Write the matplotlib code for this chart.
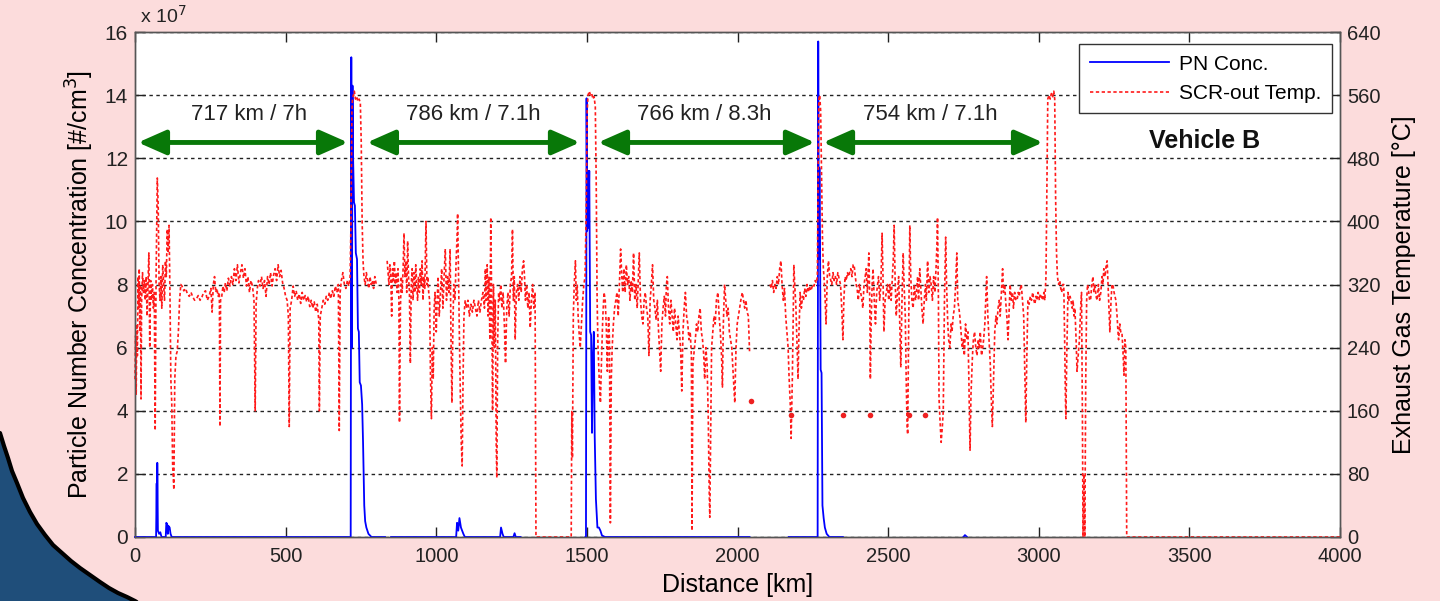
import numpy as np
import matplotlib.pyplot as plt
from matplotlib.lines import Line2D

plt.rcParams['font.family'] = ['Liberation Sans', 'DejaVu Sans']

# PN concentration in units of 1e7 #/cm3, (distance km, value); None = logger gap
pn_conc = [
    (0, 0), (70, 0), (72, 1.7), (73, 0.3), (74, 2.35), (76, 0.2), (80, 0.1), (84, 0.15), (88, 0),
    (102, 0), (104, 0.45), (107, 0.4), (109, 0.1), (111, 0.35), (115, 0.3), (118, 0.1), (122, 0),
    (716, 0), (718, 15.2), (720, 6.0), (722, 14.3), (724, 12.0), (727, 10.6), (730, 10.5), (733, 9.0),
    (737, 8.8), (740, 6.6), (743, 6.5), (746, 4.9), (750, 4.8), (754, 4.2), (757, 3.0), (761, 1.0),
    (764, 0.5), (768, 0.3), (775, 0.1), (785, 0), (830, 0), None,
    (850, 0), (1066, 0), (1069, 0.45), (1073, 0.2), (1077, 0.6), (1082, 0.3), (1090, 0.1), (1095, 0),
    (1212, 0), (1215, 0.3), (1220, 0.1), (1224, 0), (1256, 0), (1260, 0.12), (1264, 0), (1280, 0), None,
    (1495, 0), (1497, 0), (1499, 13.9), (1501, 9.7), (1503, 11.6), (1505, 9.8), (1508, 11.6),
    (1511, 6.5), (1514, 6.4), (1517, 3.3), (1520, 5.7), (1523, 6.5), (1526, 3.2), (1530, 1.2),
    (1535, 0.3), (1540, 0.3), (1545, 0.2), (1550, 0.05), (1560, 0), (2040, 0), None,
    (2170, 0), (2266, 0), (2268, 15.7), (2270, 8.8), (2272, 11.7), (2274, 9.5), (2276, 5.3),
    (2279, 5.2), (2282, 1.0), (2286, 0.6), (2290, 0.3), (2296, 0.1), (2305, 0), (2350, 0), None,
    (2750, 0), (2755, 0.06), (2762, 0),
]

# SCR-out exhaust temperature in degC, one list per trip leg
scr_temp_leg1 = [
    (0, 200), (2, 255), (4, 180), (6, 270), (8, 230), (10, 330), (12, 290), (14, 340), (16, 260),
    (18, 320), (20, 175), (22, 300), (25, 335), (28, 310), (31, 325), (34, 300), (37, 330), (40, 280),
    (43, 320), (46, 360), (49, 240), (52, 325), (55, 300), (58, 320), (61, 290), (64, 310), (67, 135),
    (70, 330), (74, 455), (77, 420), (80, 320), (83, 300), (86, 330), (89, 290), (92, 345), (95, 320),
    (98, 300), (101, 350), (104, 330), (107, 390), (110, 360), (113, 395), (116, 310), (119, 200),
    (122, 170), (125, 90), (129, 60), (132, 200), (136, 230), (140, 235), (144, 260), (148, 300),
    (152, 320), (156, 318), (162, 312), (168, 315), (174, 308), (180, 305), (186, 310), (192, 304),
    (198, 300), (204, 302), (210, 306), (216, 300), (222, 304), (228, 310), (234, 312), (240, 300),
    (246, 305), (252, 315), (256, 285), (260, 320), (264, 330), (268, 310), (272, 315), (276, 305),
    (280, 310), (282, 140), (284, 300), (288, 305), (292, 318), (296, 310), (300, 322), (305, 312),
    (310, 328), (315, 318), (320, 330), (325, 320), (330, 340), (335, 325), (340, 345), (345, 322),
    (350, 335), (355, 345), (360, 328), (365, 340), (370, 318), (375, 330), (380, 310), (385, 325),
    (390, 318), (395, 300), (399, 160), (402, 295), (406, 315), (410, 325), (415, 318), (420, 330),
    (425, 315), (430, 325), (435, 305), (440, 330), (445, 320), (450, 335), (455, 318), (460, 332),
    (465, 340), (470, 325), (475, 345), (480, 330), (485, 338), (490, 322), (495, 315), (500, 305),
    (505, 300), (509, 280), (512, 140), (515, 290), (520, 300), (525, 318), (530, 305), (535, 312),
    (540, 300), (545, 308), (550, 296), (555, 310), (560, 300), (565, 306), (570, 298), (575, 305),
    (580, 292), (585, 300), (590, 290), (595, 298), (600, 285), (605, 295), (610, 275), (612, 160),
    (615, 280), (620, 290), (625, 300), (630, 295), (635, 305), (640, 300), (645, 310), (650, 302),
    (655, 312), (660, 305), (665, 318), (670, 310), (675, 320), (678, 135), (681, 310), (685, 325),
    (690, 335), (695, 320), (700, 315), (705, 325), (710, 318), (714, 330), (717, 400), (720, 540),
    (722, 555), (725, 560), (728, 565), (732, 555), (736, 558), (740, 552), (744, 555), (748, 550),
    (751, 500), (754, 400), (757, 350), (760, 330), (764, 320), (768, 335), (772, 325), (776, 315),
    (780, 330), (784, 320), (788, 325), (792, 315), (796, 330), (800, 322), (805, 318),
]
scr_temp_leg2 = [
    (837, 350), (840, 335), (843, 320), (846, 345), (849, 330), (852, 280), (855, 340), (858, 325),
    (861, 350), (864, 320), (867, 335), (870, 310), (873, 340), (876, 300), (878, 145), (881, 290),
    (884, 330), (887, 310), (890, 340), (893, 385), (896, 330), (899, 350), (902, 310), (905, 375),
    (908, 330), (911, 310), (914, 220), (917, 320), (920, 340), (923, 300), (926, 335), (929, 310),
    (932, 345), (935, 320), (938, 300), (941, 330), (944, 310), (947, 340), (950, 320), (953, 350),
    (956, 300), (959, 330), (962, 315), (966, 400), (969, 320), (972, 330), (975, 310), (978, 300),
    (981, 200), (984, 150), (987, 240), (990, 200), (993, 290), (996, 310), (1000, 260), (1003, 300),
    (1006, 330), (1010, 280), (1014, 310), (1018, 340), (1022, 290), (1026, 330), (1030, 365),
    (1034, 300), (1038, 330), (1042, 310), (1046, 365), (1049, 250), (1052, 170), (1055, 260),
    (1058, 320), (1062, 300), (1066, 350), (1069, 380), (1071, 410), (1074, 330), (1077, 250),
    (1080, 180), (1083, 120), (1086, 90), (1089, 200), (1092, 280), (1096, 300), (1100, 290),
    (1105, 300), (1110, 280), (1115, 295), (1120, 285), (1125, 300), (1130, 290), (1135, 280),
    (1140, 300), (1145, 285), (1150, 300), (1155, 310), (1160, 290), (1163, 340), (1166, 300),
    (1169, 345), (1172, 280), (1175, 330), (1178, 250), (1181, 405), (1184, 300), (1187, 160),
    (1190, 320), (1193, 240), (1196, 300), (1199, 120), (1201, 75), (1204, 250), (1207, 310),
    (1210, 300), (1214, 320), (1218, 290), (1222, 310), (1226, 270), (1230, 220), (1234, 290),
    (1238, 310), (1242, 280), (1246, 320), (1250, 330), (1253, 390), (1256, 300), (1259, 330),
    (1262, 250), (1266, 310), (1270, 320), (1274, 300), (1278, 330), (1282, 310), (1286, 340),
    (1290, 350), (1293, 330), (1296, 300), (1300, 320), (1304, 290), (1308, 310), (1312, 265),
    (1316, 300), (1320, 320), (1324, 290), (1328, 310), (1331, 0), (1448, 0), (1450, 160),
    (1452, 100), (1455, 280), (1458, 320), (1462, 350), (1465, 300), (1468, 320), (1471, 280),
    (1474, 260), (1478, 240), (1482, 270), (1486, 300), (1490, 320), (1494, 330), (1498, 420),
    (1501, 540), (1504, 560), (1508, 565), (1512, 560), (1516, 562), (1520, 555), (1524, 558),
    (1528, 545), (1531, 450), (1534, 300), (1537, 240), (1541, 200), (1545, 170), (1549, 230),
    (1553, 280), (1557, 310), (1561, 300), (1565, 260), (1568, 210), (1572, 280), (1575, 250),
    (1578, 18), (1581, 200), (1584, 240), (1588, 270), (1592, 290), (1596, 300), (1600, 310),
    (1604, 280), (1608, 320), (1612, 365), (1616, 330), (1619, 310), (1623, 340), (1627, 310),
    (1631, 345), (1635, 320), (1639, 330), (1643, 300), (1647, 325), (1651, 310), (1655, 360),
    (1659, 300), (1663, 320), (1667, 290), (1671, 330), (1674, 360), (1678, 300), (1682, 280),
    (1686, 270), (1690, 300), (1694, 310), (1698, 290), (1702, 280), (1706, 230), (1710, 300),
    (1714, 320), (1718, 345), (1722, 300), (1726, 290), (1730, 275), (1734, 300), (1738, 260),
    (1742, 230), (1745, 210), (1749, 270), (1753, 290), (1757, 305), (1761, 280), (1764, 320),
    (1767, 330), (1771, 290), (1775, 270), (1779, 300), (1783, 280), (1787, 260), (1791, 290),
    (1795, 270), (1799, 250), (1803, 280), (1807, 260), (1811, 240), (1815, 185), (1819, 260),
    (1823, 290), (1827, 310), (1831, 280), (1835, 270), (1839, 250), (1843, 260), (1847, 230),
    (1849, 8), (1852, 220), (1856, 235), (1860, 250), (1864, 270), (1868, 260), (1872, 280),
    (1876, 290), (1880, 260), (1884, 250), (1888, 230), (1891, 200), (1895, 240), (1899, 220),
    (1903, 150), (1906, 60), (1908, 25), (1911, 130), (1914, 240), (1918, 260), (1922, 280),
    (1926, 270), (1930, 300), (1935, 310), (1939, 280), (1943, 260), (1947, 230), (1950, 190),
    (1953, 270), (1957, 320), (1961, 300), (1965, 280), (1969, 290), (1973, 260), (1977, 250),
    (1981, 240), (1985, 210), (1988, 190), (1991, 170), (1995, 240), (1999, 270), (2003, 280),
    (2007, 290), (2011, 300), (2016, 310), (2020, 300), (2024, 290), (2028, 300), (2032, 285),
    (2036, 280), (2040, 235),
]
scr_temp_leg3 = [
    (2108, 320), (2112, 315), (2116, 325), (2120, 310), (2124, 320), (2128, 315), (2132, 330),
    (2136, 320), (2140, 340), (2144, 350), (2148, 320), (2152, 300), (2156, 315), (2160, 280),
    (2164, 260), (2168, 240), (2171, 205), (2175, 170), (2178, 125), (2182, 200), (2185, 280),
    (2187, 345), (2190, 320), (2194, 290), (2197, 250), (2201, 200), (2204, 260), (2208, 310),
    (2212, 290), (2216, 305), (2219, 300), (2223, 315), (2227, 305), (2231, 320), (2235, 310),
    (2239, 318), (2243, 312), (2246, 315), (2250, 320), (2254, 318), (2258, 325), (2262, 322),
    (2265, 330), (2268, 480), (2270, 555), (2273, 560), (2276, 540), (2279, 460), (2282, 380),
    (2285, 340), (2287, 330), (2290, 310), (2294, 270), (2298, 330), (2302, 350), (2306, 330),
    (2310, 325), (2313, 320), (2317, 335), (2321, 325), (2325, 330), (2329, 320), (2333, 335),
    (2337, 328), (2342, 320), (2346, 290), (2350, 250), (2353, 300), (2357, 330), (2361, 325),
    (2365, 335), (2369, 330), (2372, 335), (2376, 340), (2380, 330), (2384, 345), (2387, 345),
    (2391, 330), (2394, 320), (2397, 315), (2401, 300), (2405, 320), (2409, 310), (2413, 300),
    (2416, 290), (2420, 320), (2424, 330), (2427, 340), (2431, 310), (2436, 360), (2439, 300),
    (2441, 200), (2444, 280), (2447, 320), (2450, 340), (2454, 300), (2458, 270), (2462, 310),
    (2465, 320), (2468, 330), (2472, 300), (2476, 320), (2480, 385), (2483, 330), (2486, 260),
    (2490, 300), (2494, 310), (2498, 320), (2502, 300), (2506, 320), (2510, 300), (2514, 330),
    (2517, 350), (2520, 395), (2523, 330), (2527, 280), (2531, 310), (2535, 330), (2538, 280),
    (2542, 215), (2546, 300), (2550, 360), (2553, 320), (2557, 280), (2560, 200), (2563, 140),
    (2565, 130), (2568, 260), (2572, 395), (2575, 330), (2579, 300), (2583, 290), (2587, 320),
    (2591, 300), (2594, 310), (2598, 330), (2601, 300), (2605, 340), (2609, 310), (2612, 290),
    (2616, 270), (2620, 300), (2624, 320), (2627, 300), (2631, 350), (2635, 310), (2639, 330),
    (2643, 320), (2647, 300), (2651, 330), (2655, 310), (2659, 340), (2662, 370), (2664, 405),
    (2667, 300), (2669, 175), (2672, 150), (2676, 120), (2680, 140), (2683, 160), (2687, 300),
    (2691, 380), (2694, 320), (2698, 270), (2701, 250), (2705, 240), (2709, 270), (2712, 260),
    (2716, 280), (2720, 290), (2724, 320), (2728, 360), (2731, 300), (2735, 290), (2738, 280),
    (2742, 260), (2746, 240), (2750, 250), (2753, 230), (2757, 270), (2761, 250), (2765, 260),
    (2768, 200), (2770, 150), (2772, 110), (2775, 180), (2780, 230), (2783, 250), (2787, 260),
    (2791, 240), (2795, 230), (2799, 250), (2802, 240), (2806, 260), (2810, 230), (2814, 240),
    (2817, 250), (2821, 270), (2824, 300), (2827, 330), (2831, 280), (2835, 250), (2839, 220),
    (2842, 180), (2846, 140), (2850, 200), (2854, 260), (2858, 280), (2861, 270), (2865, 290),
    (2869, 300), (2872, 280), (2876, 310), (2880, 340), (2883, 310), (2887, 320), (2890, 300),
    (2894, 280), (2898, 250), (2901, 280), (2905, 320), (2909, 300), (2913, 310), (2916, 290),
    (2920, 310), (2924, 300), (2928, 300), (2932, 310), (2935, 305), (2939, 315), (2942, 320),
    (2946, 300), (2950, 280), (2954, 200), (2957, 145), (2960, 220), (2964, 300), (2968, 295),
    (2972, 305), (2976, 300), (2980, 310), (2984, 300), (2987, 295), (2991, 305), (2994, 300),
    (2998, 310), (3002, 300), (3005, 308), (3009, 305), (3013, 300), (3017, 310), (3020, 300),
    (3024, 330), (3027, 440), (3030, 555), (3034, 560), (3038, 555), (3042, 562), (3046, 558),
    (3050, 565), (3053, 555), (3056, 430), (3059, 360), (3062, 330), (3066, 320), (3070, 325),
    (3073, 315), (3076, 310), (3080, 320), (3083, 320), (3086, 250), (3088, 190), (3090, 150),
    (3093, 230), (3097, 310), (3100, 300), (3104, 305), (3107, 300), (3111, 290), (3114, 300),
    (3117, 280), (3120, 290), (3124, 250), (3127, 210), (3131, 230), (3135, 250), (3139, 290),
    (3142, 310), (3145, 150), (3147, 0), (3150, 80), (3153, 0), (3156, 200), (3159, 300),
    (3162, 320), (3166, 310), (3169, 300), (3172, 300), (3176, 320), (3180, 330), (3183, 310),
    (3187, 320), (3190, 305), (3194, 300), (3198, 320), (3202, 300), (3206, 310), (3210, 330),
    (3213, 320), (3216, 340), (3220, 330), (3224, 345), (3227, 350), (3230, 320), (3233, 290),
    (3236, 260), (3240, 300), (3243, 320), (3246, 320), (3250, 310), (3253, 305), (3256, 300),
    (3260, 280), (3263, 260), (3265, 250), (3269, 270), (3272, 260), (3276, 260), (3279, 240),
    (3283, 205), (3286, 250), (3289, 240), (3292, 0), (4000, 0),
]
# single isolated temperature samples
temp_dot_km = [2045, 2179, 2350, 2441, 2568, 2624]
temp_dot_c = [172, 155, 155, 155, 155, 155]

# trips between the regenerations
trip_spans = [(10, 707), (770, 1477), (1537, 2257), (2284, 3014)]
trip_labels = ['717 km / 7h', '786 km / 7.1h', '766 km / 8.3h', '754 km / 7.1h']
trip_label_km = [377, 1122, 1890, 2640]


def to_xy(pairs):
    xs, ys = [], []
    for p in pairs:
        if p is None:
            xs.append(np.nan)
            ys.append(np.nan)
        else:
            xs.append(p[0])
            ys.append(p[1])
    return np.array(xs, float), np.array(ys, float)


pn_x, pn_y = to_xy(pn_conc)
t_x, t_y = to_xy(scr_temp_leg1 + [None] + scr_temp_leg2 + [None] + scr_temp_leg3)

fig = plt.figure(figsize=(14.4, 6.01), dpi=100, facecolor='#fcdcdc')

# slide decoration in the lower left corner
bg = fig.add_axes([0, 0, 1, 1], zorder=-5)
bg.set_xlim(0, 1440)
bg.set_ylim(601, 0)
bg.axis('off')
arc_x = [0, 4, 8, 12, 17, 23, 30, 37, 45, 53, 62, 71, 80, 90, 100, 109, 118, 127, 135, 150]
arc_y = [433, 446, 458, 471, 483, 498, 512, 524, 535, 545, 553, 561, 568, 575, 582, 588, 593, 597, 601, 610]
bg.fill(arc_x + [0], arc_y + [610], color='#1f4e7a', lw=0)
bg.plot(arc_x, arc_y, color='black', lw=3, solid_capstyle='round', solid_joinstyle='round')

ax = fig.add_axes([135 / 1440, 64 / 601, 1205 / 1440, 505 / 601])
ax.set_facecolor('white')
ax2 = ax.twinx()

ax.plot(pn_x, pn_y, color='#0000ff', lw=1.3, clip_on=False, zorder=3)
red_ls = (0, (2.0, 1.5))
ax2.plot(t_x, t_y, color='#ff1a1a', lw=1.2, ls=red_ls, clip_on=False)
ax2.plot(temp_dot_km, temp_dot_c, 'o', color='#ee2020', ms=4, mew=0)

ax.set_xlim(0, 4000)
ax.set_ylim(0, 16)
ax2.set_ylim(0, 640)
ax.set_xticks(np.arange(0, 4001, 500))
ax.set_yticks(np.arange(0, 17, 2))
ax2.set_yticks(np.arange(0, 641, 80))
ax.yaxis.grid(True, ls=(0, (2.5, 2.5)), color='#222222', lw=1.0)

for a in (ax, ax2):
    a.tick_params(direction='in', length=7, width=1, labelsize=15, colors='#222222', pad=5)
    for s in a.spines.values():
        s.set_color('#555555')
        s.set_linewidth(1)
ax.tick_params(top=True)
ax.tick_params(axis='x', pad=7, labelsize=14.5)
ax2.tick_params(axis='y', labelsize=14.5)

ax.set_xlabel('Distance [km]', fontsize=18, labelpad=5)
ax.set_ylabel('Particle Number Concentration [#/cm$^3$]', fontsize=18, labelpad=6)
ax2.set_ylabel('Exhaust Gas Temperature [°C]', fontsize=18, labelpad=8)
ax.text(0.004, 1.01, 'x 10$^{7}$', transform=ax.transAxes, fontsize=14, va='bottom', color='#222222')

arrow_green = '#087808'
for (x0, x1), lab, lx in zip(trip_spans, trip_labels, trip_label_km):
    ax.annotate('', xy=(x1, 12.5), xytext=(x0, 12.5),
                arrowprops=dict(arrowstyle='<|-|>,head_length=1.7,head_width=0.75',
                                color=arrow_green, lw=3.5, shrinkA=0, shrinkB=0),
                zorder=6)
    ax.text(lx, 13.05, lab, fontsize=16, ha='center', va='bottom', color='#222222', zorder=6)

ax.text(3552, 12.55, 'Vehicle B', fontsize=18, fontweight='bold', ha='center', va='center',
        color='#111111', zorder=6)

handles = [Line2D([], [], color='#0000ff', lw=1.3),
           Line2D([], [], color='#ff1a1a', lw=1.2, ls=red_ls)]
leg = ax2.legend(handles, ['PN Conc.', 'SCR-out Temp.'], loc='upper right',
                 bbox_to_anchor=(0.9934, 0.976), borderaxespad=0, fancybox=False,
                 framealpha=1, edgecolor='#333333', fontsize=15, handlelength=3.8,
                 borderpad=0.5, labelspacing=0.5, handletextpad=0.5)
leg.get_frame().set_linewidth(1)

fig.savefig('out.png', dpi=100, facecolor=fig.get_facecolor())
